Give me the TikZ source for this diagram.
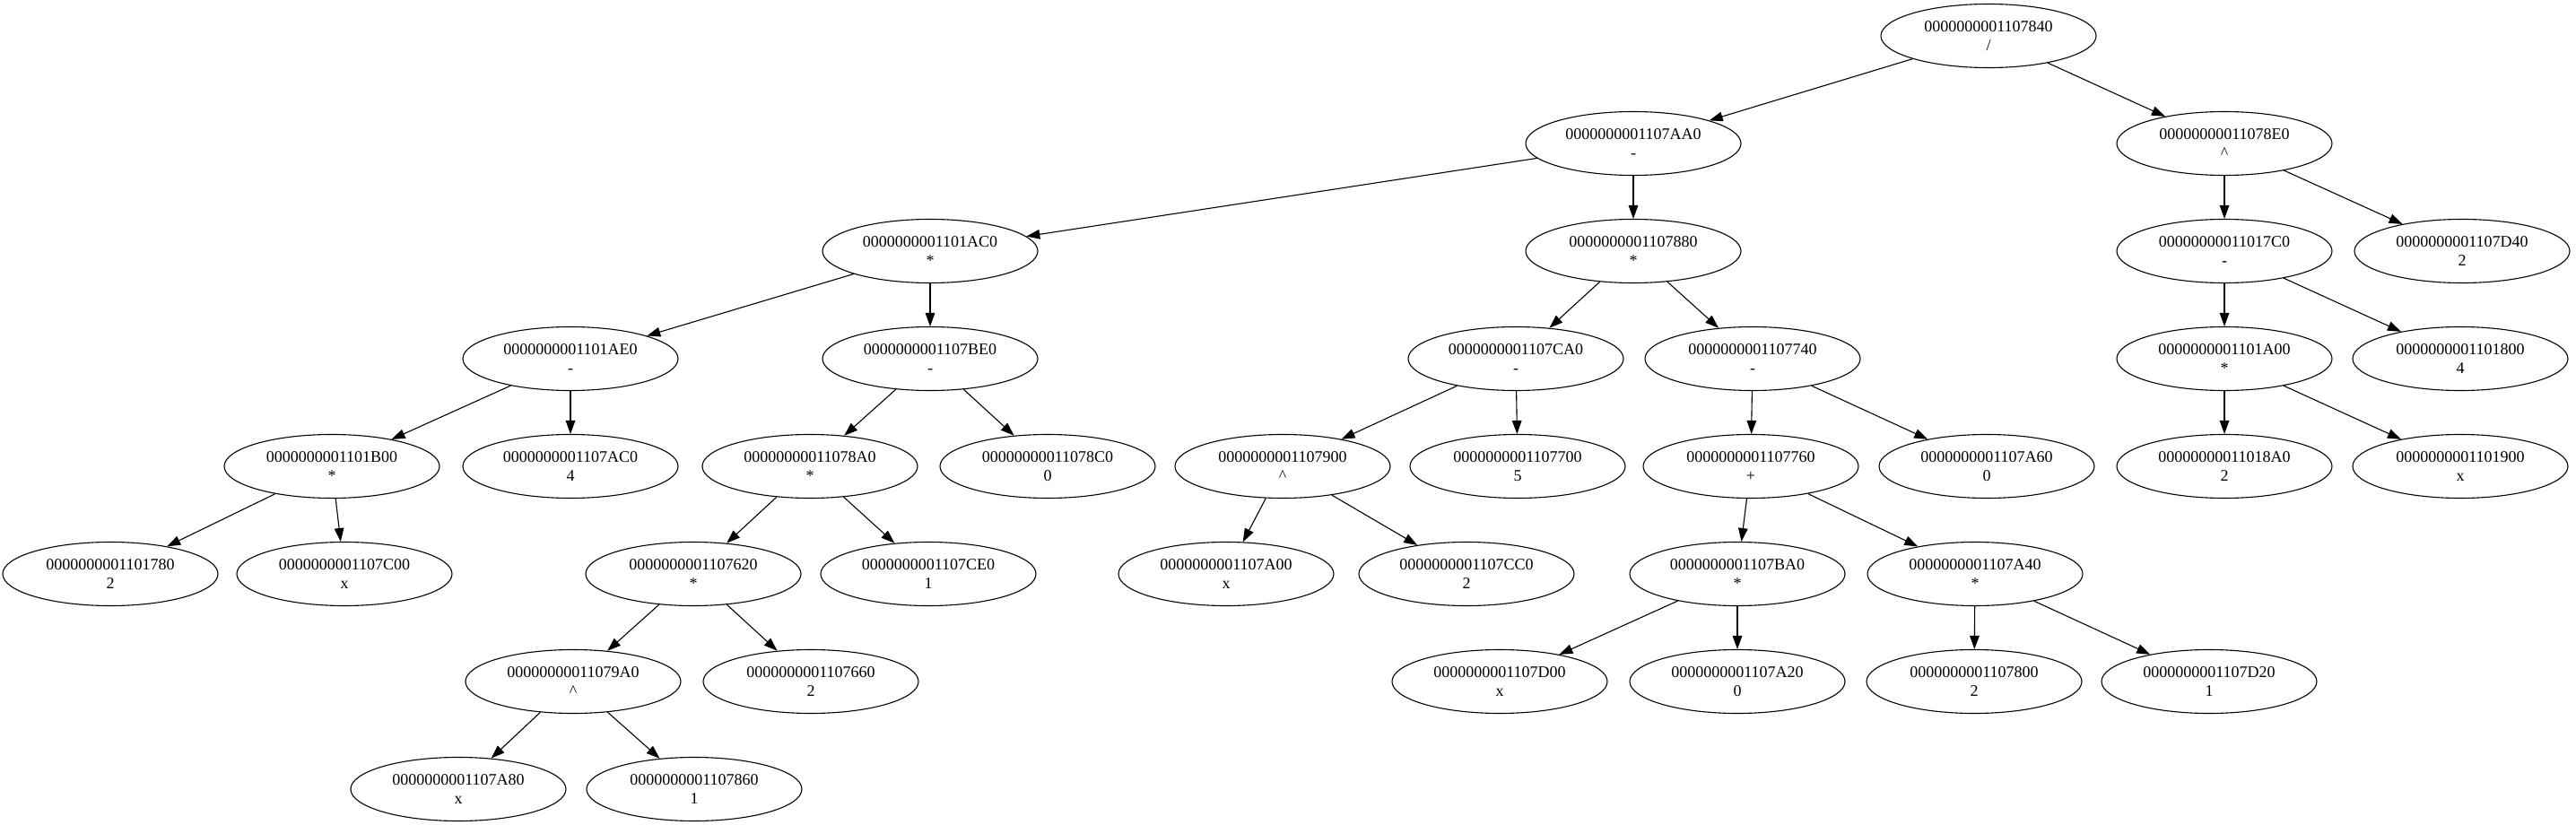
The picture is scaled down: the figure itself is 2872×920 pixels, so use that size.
\documentclass[tikz,border=0pt]{standalone}
\usepackage{fontspec}
\setmainfont{Liberation Serif}
\usetikzlibrary{shapes.geometric}
\usetikzlibrary{arrows.meta}

\begin{document}
\begin{tikzpicture}[x=0.5pt,y=-0.5pt,line width=0.55pt,
	nodo/.style={draw,ellipse,inner sep=0pt,minimum width=120pt,minimum height=35.5pt,align=center,font=\fontsize{9}{10.5}\selectfont},
	every edge/.style={draw,-{Triangle[length=7.5pt,width=5.3pt]}}]
	\useasboundingbox (0,0) rectangle (2872,920);
	% un nivel por fila, de arriba hacia abajo
	\node[nodo] (n7840) at (2217,40) {0000000001107840\\/};
	\node[nodo] (n7AA0) at (1821,160) {0000000001107AA0\\-};
	\node[nodo] (n78E0) at (2480,160) {00000000011078E0\\\textasciicircum};
	\node[nodo] (n1AC0) at (1037,280) {0000000001101AC0\\*};
	\node[nodo] (n7880) at (1821,280) {0000000001107880\\*};
	\node[nodo] (n17C0) at (2480,280) {00000000011017C0\\-};
	\node[nodo] (n7D40) at (2745,280) {0000000001107D40\\2};
	\node[nodo] (n1AE0) at (636,400) {0000000001101AE0\\-};
	\node[nodo] (n7BE0) at (1037,400) {0000000001107BE0\\-};
	\node[nodo] (n7CA0) at (1690,400) {0000000001107CA0\\-};
	\node[nodo] (n7740) at (1954,400) {0000000001107740\\-};
	\node[nodo] (n1A00) at (2480,400) {0000000001101A00\\*};
	\node[nodo] (n1800) at (2743,400) {0000000001101800\\4};
	\node[nodo] (n1B00) at (370,520) {0000000001101B00\\*};
	\node[nodo] (n7AC0) at (636,520) {0000000001107AC0\\4};
	\node[nodo] (n78A0) at (903,520) {00000000011078A0\\*};
	\node[nodo] (n78C0) at (1168,520) {00000000011078C0\\0};
	\node[nodo] (n7900) at (1430,520) {0000000001107900\\\textasciicircum};
	\node[nodo] (n7700) at (1692,520) {0000000001107700\\5};
	\node[nodo] (n7760) at (1952,520) {0000000001107760\\+};
	\node[nodo] (n7A60) at (2215,520) {0000000001107A60\\0};
	\node[nodo] (n18A0) at (2480,520) {00000000011018A0\\2};
	\node[nodo] (n1900) at (2743,520) {0000000001101900\\x};
	\node[nodo] (n1780) at (123,640) {0000000001101780\\2};
	\node[nodo] (n7C00) at (384,640) {0000000001107C00\\x};
	\node[nodo] (n7620) at (773,640) {0000000001107620\\*};
	\node[nodo] (n7CE0) at (1035,640) {0000000001107CE0\\1};
	\node[nodo] (n7A00) at (1367,640) {0000000001107A00\\x};
	\node[nodo] (n7CC0) at (1635,640) {0000000001107CC0\\2};
	\node[nodo] (n7BA0) at (1937,640) {0000000001107BA0\\*};
	\node[nodo] (n7A40) at (2202,640) {0000000001107A40\\*};
	\node[nodo] (n79A0) at (639,760) {00000000011079A0\\\textasciicircum};
	\node[nodo] (n7660) at (904,760) {0000000001107660\\2};
	\node[nodo] (n7D00) at (1672,760) {0000000001107D00\\x};
	\node[nodo] (n7A20) at (1937,760) {0000000001107A20\\0};
	\node[nodo] (n7800) at (2201,760) {0000000001107800\\2};
	\node[nodo] (n7D20) at (2463,760) {0000000001107D20\\1};
	\node[nodo] (n7A80) at (511,880) {0000000001107A80\\x};
	\node[nodo] (n7860) at (774,880) {0000000001107860\\1};
	% aristas padre -> hijos
	\path (n7840) edge (n7AA0) edge (n78E0)
		(n7AA0) edge (n1AC0) edge (n7880)
		(n78E0) edge (n17C0) edge (n7D40)
		(n1AC0) edge (n1AE0) edge (n7BE0)
		(n7880) edge (n7CA0) edge (n7740)
		(n17C0) edge (n1A00) edge (n1800)
		(n1AE0) edge (n1B00) edge (n7AC0)
		(n7BE0) edge (n78A0) edge (n78C0)
		(n7CA0) edge (n7900) edge (n7700)
		(n7740) edge (n7760) edge (n7A60)
		(n1A00) edge (n18A0) edge (n1900)
		(n1B00) edge (n1780) edge (n7C00)
		(n78A0) edge (n7620) edge (n7CE0)
		(n7900) edge (n7A00) edge (n7CC0)
		(n7760) edge (n7BA0) edge (n7A40)
		(n7620) edge (n79A0) edge (n7660)
		(n7BA0) edge (n7D00) edge (n7A20)
		(n7A40) edge (n7800) edge (n7D20)
		(n79A0) edge (n7A80) edge (n7860);
\end{tikzpicture}
\end{document}
